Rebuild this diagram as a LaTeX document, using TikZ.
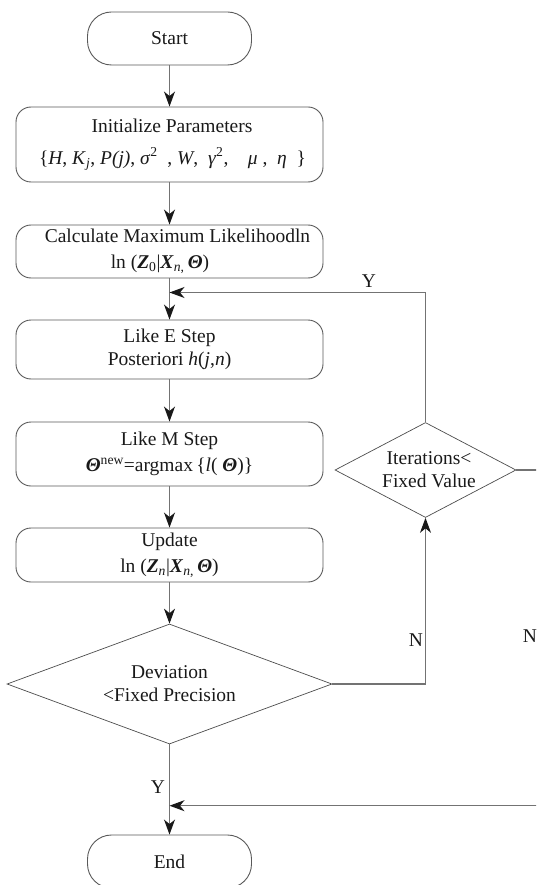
\documentclass[tikz,border=0pt]{standalone}
\usepackage{fontspec}
\setmainfont{Liberation Serif}
\usetikzlibrary{shapes.geometric,arrows.meta}

\newcommand{\bt}[1]{\textbf{\textit{#1}}}

\begin{document}
\begin{tikzpicture}[x=1pt,y=-1pt,
  every node/.style={font=\fontsize{19.5}{23}\selectfont, text=black!90},
  box/.style={draw=black!65, line width=0.9pt, rounded corners=15pt,
    minimum width=307pt, align=center, inner sep=0pt},
  term/.style={draw=black!65, line width=0.9pt, rounded corners=24pt,
    minimum width=164pt, minimum height=53pt, inner sep=0pt},
  decision/.style={draw=black!70, line width=0.7pt, diamond, inner sep=0pt},
  conn/.style={draw=black!55, line width=1.1pt,
    -{Stealth[length=15pt,width=11pt,inset=4.5pt,color=black!90]}},
  tag/.style={inner sep=0pt}]

\useasboundingbox (0,0) rectangle (536,885);
\clip (0,0) rectangle (536,885);

% main column
\node[term] (start) at (169.5,38.5) {Start};
\node[box, minimum height=75pt] (init) at (169.5,144.5)
  {\makebox[5pt]{}Initialize Parameters\\[9pt]
   \makebox[6pt]{}\{\textit{H}, \textit{K}\textsubscript{\textit{j}}, \textit{P(j)}, \textit{σ}\textsuperscript{2}\ \ , \textit{W},\ \ \textit{γ}\textsuperscript{2},\ \ \ \ \textit{μ}\ ,\ \ \textit{η}\ \ \}};
\node[box, minimum height=53pt] (calc) at (169.5,251.5)
  {\makebox[16pt]{}Calculate Maximum Likelihoodln\\[3pt]
   ln (\bt{Z}\textsubscript{0}|\bt{X}\textsubscript{\textit{n},}\,\bt{Θ})\makebox[19pt]{}};
\node[box, minimum height=59pt] (estep) at (169.5,349.5)
  {Like E Step\\Posteriori \textit{h}(\textit{j},\textit{n})};
\node[box, minimum height=64pt] (mstep) at (169.5,454)
  {Like M Step\\[3pt]
   \bt{Θ}\textsuperscript{new}=argmax\,\{\textit{l}( \bt{Θ})\}};
\node[box, minimum height=54pt] (update) at (169.5,555)
  {Update\\[3pt]
   ln (\bt{Z}\textsubscript{\textit{n}}|\bt{X}\textsubscript{\textit{n},}\,\bt{Θ})};
\node[decision, minimum width=325pt, minimum height=120pt] (dev) at (169.5,684) {};
\node[align=center, inner sep=0pt] (devtext) at (dev.center) {Deviation\\<Fixed Precision};
\node[term] (end) at (169.5,861.5) {End};

% loop-back decision
\node[decision, minimum width=181pt, minimum height=95pt] (iter) at (425.5,470) {};
\node[align=center, inner sep=0pt] (itertext) at (429,470) {Iterations<\\Fixed Value};

% junction points on the main column
\coordinate (jtop) at (169.5,292.5);
\coordinate (jbot) at (169.5,805.7);
\coordinate (rc) at (541,805.7);

% connectors
\draw[conn] (start) -- (init);
\draw[conn] (init) -- (calc);
\draw[conn] (calc) -- (estep);
\draw[conn] (estep) -- (mstep);
\draw[conn] (mstep) -- (update);
\draw[conn] (update) -- (dev);
\draw[conn] (dev) -- (end);
\draw[conn] (dev.east) -| (iter.south);
\draw[conn] (iter.north) |- (jtop);
\draw[conn] (iter.east) -| (rc) -- (jbot);

% branch labels
\node[tag] (ytop) at (369,281) {Y};
\node[tag] (nmid) at (416,640.5) {N};
\node[tag] (nright) at (530,636) {N};
\node[tag] (ybot) at (158,787) {Y};
\end{tikzpicture}
\end{document}
